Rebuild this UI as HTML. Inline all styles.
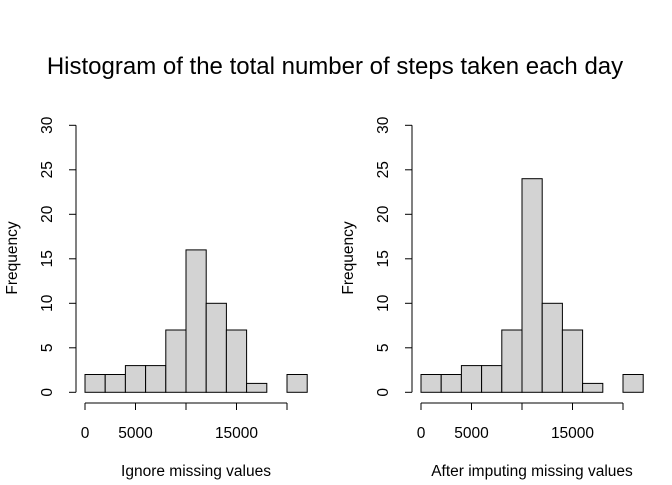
<!DOCTYPE html>
<html><head><meta charset="utf-8"><style>
body{margin:0;background:#fff}
svg text{font-family:"Liberation Sans",Arial,sans-serif;fill:#000}
</style></head><body>
<svg id="c" width="672" height="480" xmlns="http://www.w3.org/2000/svg">
<text x="335" y="74" font-size="24" text-anchor="middle">Histogram of the total number of steps taken each day</text>
</svg>
<script>
const breaks=[0,2000,4000,6000,8000,10000,12000,14000,16000,18000,20000,22000];
const countsIgnore=[2,2,3,3,7,16,10,7,1,0,2];
const countsImputed=[2,2,3,3,7,24,10,7,1,0,2];
const yTicks=[0,5,10,15,20,25,30];
const xTicks=[0,5000,10000,15000,20000];
const xTickLabels=["0","5000","","15000",""];
const panelLabels=["Ignore missing values","After imputing missing values"];
const svg=document.getElementById('c');
const NS='http://www.w3.org/2000/svg';
function mk(t,a,txt){const e=document.createElementNS(NS,t);for(const k in a)e.setAttribute(k,a[k]);if(txt!==undefined)e.textContent=txt;svg.appendChild(e);return e;}
function panel(off,counts,label,idx){
  const xs=v=>off+85+v*0.0101;
  const ys=v=>392.3-v*8.9;
  counts.forEach((c,i)=>{
    if(c<=0)return;
    const r=mk('rect',{x:xs(breaks[i]),y:ys(c),width:xs(breaks[i+1])-xs(breaks[i]),height:ys(0)-ys(c),fill:'#d3d3d3',stroke:'#000','stroke-width':1});
    
    
  });
  const ya=mk('line',{x1:off+76,x2:off+76,y1:ys(0),y2:ys(30),stroke:'#000'});
  
  
  yTicks.forEach(t=>{
    mk('line',{x1:off+69,x2:off+76,y1:ys(t),y2:ys(t),stroke:'#000'});
    const tx=mk('text',{x:off+52,y:ys(t),'font-size':15.5,'text-anchor':'middle',transform:`rotate(-90 ${off+52} ${ys(t)})`},String(t));
    
    
  });
  const xa=mk('line',{x1:xs(0),x2:xs(20000),y1:403,y2:403,stroke:'#000'});
  
  
  xTicks.forEach((t,i)=>{
    mk('line',{x1:xs(t),x2:xs(t),y1:403,y2:410,stroke:'#000'});
    if(xTickLabels[i]){const tx=mk('text',{x:xs(t),y:438,'font-size':15.5,'text-anchor':'middle'},xTickLabels[i]);
    
    }
  });
  const xl=mk('text',{x:off+196,y:476,'font-size':15.5,'text-anchor':'middle'},label);
  
  
  const yl=mk('text',{x:off+17,y:258,'font-size':15.5,'text-anchor':'middle',transform:`rotate(-90 ${off+17} 258)`},'Frequency');
  
  
}
panel(0,countsIgnore,panelLabels[0],0);
panel(336,countsImputed,panelLabels[1],1);
</script>
</body></html>
